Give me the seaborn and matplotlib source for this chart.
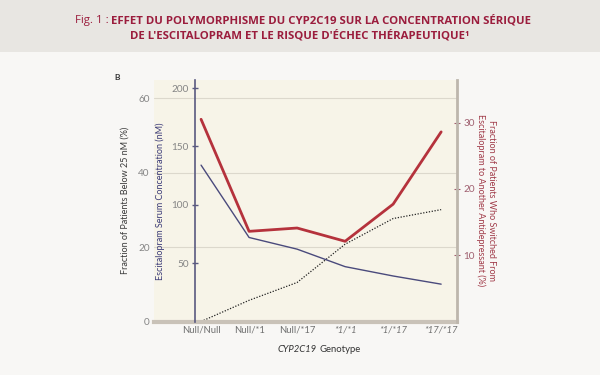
import numpy as np
import pandas as pd
import seaborn as sns
import matplotlib.pyplot as plt
from matplotlib.patches import Rectangle

# Values
genotypes = ['Null/Null', 'Null/*1', 'Null/*17', '*1/*1', '*1/*17', '*17/*17']
serum_conc = [134, 72, 62, 47, 39, 32]            # nM, middle axis
below_25nm = [0, 5.7, 10.5, 20.8, 27.7, 30.1]     # %, left axis
switched = [30.5, 13.6, 14.1, 12.1, 17.7, 28.6]   # %, right axis

df = pd.DataFrame({
    'genotype': genotypes,
    'pos': np.arange(len(genotypes)),
    'serum': serum_conc,
    'below': below_25nm,
    'switched': switched,
})

sns.set_theme(style='white')
plt.rcParams['font.family'] = ['Lato', 'DejaVu Sans']

W, H = 600, 375
fig = plt.figure(figsize=(6, 3.75), dpi=100)
fig.patch.set_facecolor('#f8f7f5')
fig.add_artist(Rectangle((0, 1 - 52 / H), 1, 52 / H, transform=fig.transFigure,
                         facecolor='#e8e6e2', edgecolor='none', zorder=0))

# header title
red_title = '#9b1d3d'
title_font = ['Open Sans', 'DejaVu Sans']
fig.text(109 / W, 1 - 21 / H, 'Fig. 1 :', ha='right', va='center', fontsize=8.2,
         color=red_title, family=title_font)
fig.text(111 / W, 1 - 21 / H, 'EFFET DU POLYMORPHISME DU CYP2C19 SUR LA CONCENTRATION SÉRIQUE',
         ha='left', va='center', fontsize=8.2, weight='bold', color=red_title,
         family=title_font)
fig.text(0.5, 1 - 35.5 / H, "DE L'ESCITALOPRAM ET LE RISQUE D'ÉCHEC THÉRAPEUTIQUE¹",
         ha='center', va='center', fontsize=8.2, weight='bold', color=red_title,
         family=title_font)

fig.text(117 / W, 1 - 77 / H, 'B', ha='center', va='center', fontsize=6,
         weight='bold', color='#333333')

# main axes: fraction below 25 nM (left)
bottom_px, top_px = 321.5, 80
ax = fig.add_axes([154 / W, 1 - bottom_px / H, 303 / W, (bottom_px - top_px) / H])
ax.set_facecolor('#f7f4e8')
sns.lineplot(data=df, x='pos', y='below', ax=ax, color='#222222', lw=0.9,
             linestyle=(0, (1, 1.3)))
ax.set_xlim(-0.98, 5.33)
ax.set_ylim(0, (bottom_px - top_px) / 3.717)
ax.set_yticks([0, 20, 40, 60])
ax.grid(axis='y', color='#dcd8cc', lw=0.8)
ax.grid(axis='x', visible=False)
ax.set_xticks(df['pos'])
ax.set_xticklabels(genotypes)
for lab in ax.get_xticklabels()[3:]:
    lab.set_style('italic')
for s in ['left', 'top', 'right']:
    ax.spines[s].set_visible(False)
ax.spines['bottom'].set_color('#c9c2b8')
ax.spines['bottom'].set_linewidth(3)
ax.tick_params(axis='y', length=0, labelsize=7.2, labelcolor='#858585', pad=3)
ax.tick_params(axis='x', length=0, labelsize=6.8, labelcolor='#707070', pad=3)
ax.set_xlabel('')
ax.set_ylabel('Fraction of Patients Below 25 nM (%)', fontsize=6.5, color='#3a3a3a')
ax.yaxis.set_label_coords((130 - 154) / 303, 0.5)

# serum concentration (middle axis)
ax2 = ax.twinx()
sns.lineplot(data=df, x='pos', y='serum', ax=ax2, color='#4a4a7c', lw=1)
ax2.set_ylim(0, (bottom_px - top_px) / 1.167)
ax2.set_yticks([50, 100, 150, 200])
ax2.yaxis.tick_left()
ax2.yaxis.set_label_position('left')
for s in ['right', 'top', 'bottom']:
    ax2.spines[s].set_visible(False)
ax2.spines['left'].set_visible(True)
ax2.spines['left'].set_position(('data', -0.125))
ax2.spines['left'].set_color('#5a5a80')
ax2.spines['left'].set_linewidth(1.2)
ax2.tick_params(axis='y', direction='inout', length=5, width=1, color='#5a5a80',
                labelsize=7.2, labelcolor='#858585', pad=2)
ax2.set_xlabel('')
ax2.set_ylabel('Escitalopram Serum Concentration (nM)', fontsize=6.5, color='#3a3a78')
ax2.yaxis.set_label_coords((165 - 154) / 303, 0.5)

# switched antidepressant (right axis)
ax3 = ax.twinx()
sns.lineplot(data=df, x='pos', y='switched', ax=ax3, color='#b5323c', lw=2)
ax3.set_ylim(0, (bottom_px - top_px) / 6.63)
ax3.set_yticks([10, 20, 30])
ax3.yaxis.tick_right()
for s in ['left', 'top', 'bottom']:
    ax3.spines[s].set_visible(False)
ax3.spines['right'].set_color('#bdb6ac')
ax3.spines['right'].set_linewidth(2)
ax3.tick_params(axis='y', direction='inout', length=5, width=0.8, color='#a06070',
                labelsize=7.2, labelcolor='#a06070', pad=2)
ax3.set_xlabel('')
ax3.set_ylabel('')
fig.text(486 / W, 1 - 200 / H,
         'Fraction of Patients Who Switched From\nEscitalopram to Another Antidepressant (%)',
         ha='center', va='center', rotation=270, fontsize=6.5, color='#a03a48',
         linespacing=1.3)

# x label with italic gene name
fig.text(317 / W, 1 - 349 / H, 'CYP2C19', ha='right', va='center', fontsize=6.8,
         style='italic', color='#333333')
fig.text(319 / W, 1 - 349 / H, 'Genotype', ha='left', va='center', fontsize=6.8,
         color='#333333')

fig.savefig('out.png', dpi=100, facecolor=fig.get_facecolor())
